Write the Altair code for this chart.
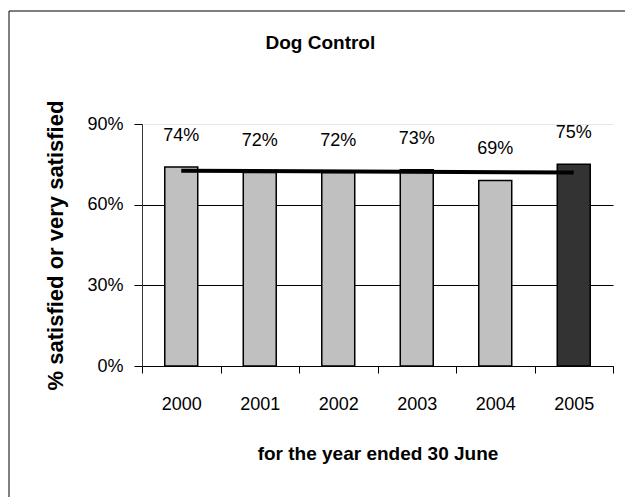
import altair as alt
import pandas as pd

years = [2000, 2001, 2002, 2003, 2004, 2005]
values = [74, 72, 72, 73, 69, 75]
bar_colors = ["#c0c0c0", "#c0c0c0", "#c0c0c0", "#c0c0c0", "#c0c0c0", "#333333"]
trend_years = [2000, 2005]
trend_values = [72.6, 72.0]
y_ticks = [0, 30, 60, 90]

FONT = "Liberation Sans"

df = pd.DataFrame({"year": years, "value": values, "color": bar_colors})
df["label"] = [f"{v}%" for v in values]
trend = pd.DataFrame({"year": trend_years, "value": trend_values})

x_enc = alt.X(
    "year:O",
    scale=alt.Scale(paddingInner=0, paddingOuter=0),
    axis=alt.Axis(
        title="for the year ended 30 June",
        labelAngle=0,
        tickBand="extent",
        tickSize=7,
        tickColor="black",
        domainColor="black",
        labelPadding=22,
        labelFontSize=18,
        labelFont=FONT,
        labelColor="black",
        titleFont=FONT,
        titleFontSize=19,
        titleFontWeight="bold",
        titleColor="black",
        titleY=87,
        titleBaseline="middle",
        grid=False,
    ),
)

y_scale = alt.Scale(domain=[0, 90], nice=False)

bars = alt.Chart(df).mark_bar(
    width={"band": 0.42}, stroke="black", strokeWidth=1.5
).encode(
    x=x_enc,
    y=alt.Y(
        "value:Q",
        scale=y_scale,
        axis=alt.Axis(
            title="% satisfied or very satisfied",
            values=y_ticks,
            labelExpr="datum.value + '%'",
            tickSize=8,
            tickColor="black",
            domainColor="#333333",
            labelPadding=11,
            labelFontSize=18,
            labelFont=FONT,
            labelColor="black",
            titleFont=FONT,
            titleFontSize=22,
            titleFontWeight="bold",
            titleColor="black",
            titleX=-87,
            titleY=121,
            titleBaseline="middle",
            grid=True,
            gridColor={"condition": {"test": "datum.value === 90", "value": "#e8e8e8"}, "value": "black"},
            gridWidth=1,
        ),
    ),
    color=alt.Color("color:N", scale=None),
)

labels = alt.Chart(df).mark_text(
    dy=-31, baseline="middle", align="center", fontSize=18, font=FONT, color="black"
).encode(
    x=alt.X("year:O"),
    y=alt.Y("value:Q", scale=y_scale),
    text="label:N",
)

trend_line = alt.Chart(trend).mark_line(color="black", strokeWidth=4).encode(
    x=alt.X("year:O"),
    y=alt.Y("value:Q", scale=y_scale),
)

one = pd.DataFrame({"a": [0]})
border_top = alt.Chart(one).mark_rule(color="black", strokeWidth=1).encode(
    x=alt.value(-133), x2=alt.value(483), y=alt.value(-113)
)
border_left = alt.Chart(one).mark_rule(color="black", strokeWidth=1).encode(
    x=alt.value(-133), y=alt.value(-113), y2=alt.value(373)
)

chart = alt.layer(bars, labels, trend_line, border_top, border_left).properties(
    width=471,
    height=242,
    autosize=alt.AutoSizeParams(type="none"),
    padding={"left": 142, "top": 124, "right": 12, "bottom": 131},
    background="white",
    title=alt.TitleParams(
        "Dog Control",
        anchor="start",
        dx=257,
        fontSize=19,
        fontWeight="bold",
        font=FONT,
        color="black",
        baseline="middle",
        offset=-51,
    ),
).configure_view(stroke=None)

chart.save("out.html", embed_options={"renderer": "svg", "actions": False})
